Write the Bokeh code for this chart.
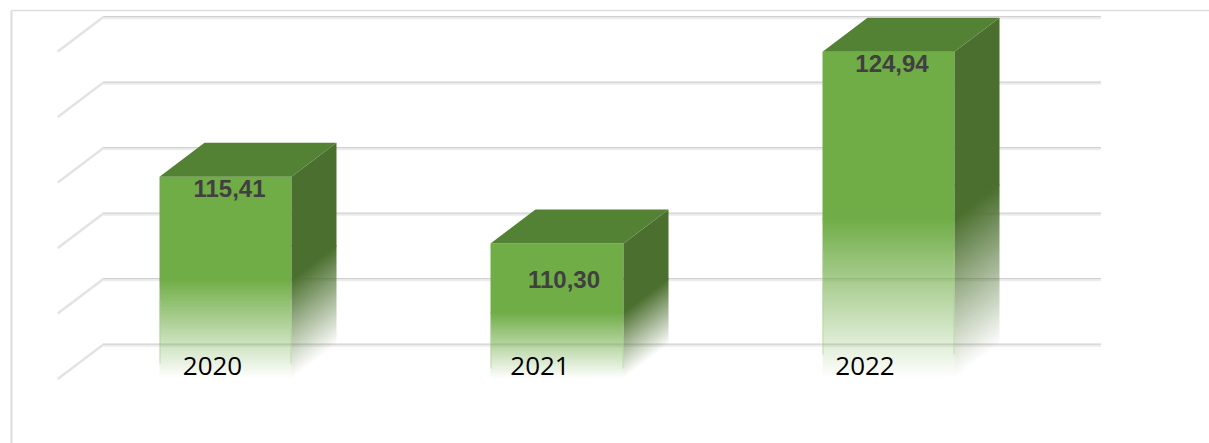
import numpy as np
from bokeh.plotting import figure
from bokeh.models import Range1d
from bokeh.core.properties import value
from bokeh.embed import file_html
from bokeh.resources import INLINE

categories = ["2020", "2021", "2022"]
values = [115.41, 110.30, 124.94]
value_labels = ["115,41", "110,30", "124,94"]
grid_values = [100, 105, 110, 115, 120, 125]
axis_min = 100

W, H = 1209, 443
PX_X = 331.5        # pixels per category
PX_Y = 13.1         # pixels per value unit
CX0 = 225           # x pixel in figure of first category
BASE = 378          # y pixel in figure of axis_min
BAR = 0.4
DX = 45 / PX_X
DY = 34 / PX_Y
FADE = 0.49

p = figure(width=W, height=H, output_backend="svg", toolbar_location=None,
           x_range=Range1d(-CX0 / PX_X, (W - CX0) / PX_X),
           y_range=Range1d(axis_min - (H - BASE) / PX_Y, axis_min + BASE / PX_Y),
           min_border=0, outline_line_color=None, background_fill_color="white")
p.axis.visible = False
p.grid.visible = False

x0, x1 = p.x_range.start, p.x_range.end
y0, y1 = p.y_range.start, p.y_range.end


def snap_x(x):
    return x0 + round((x - x0) * PX_X) / PX_X


def rgba(color, alpha):
    """Pack a hex colour and an alpha array into a uint32 image, row 0 at the bottom."""
    r, g, b = int(color[1:3], 16), int(color[3:5], 16), int(color[5:7], 16)
    a = np.clip(np.round(alpha * 255), 0, 255).astype(np.uint32)
    return (a << 24) | (b << 16) | (g << 8) | r


# chart frame
p.line([x0 + 11 / PX_X] * 2, [y0, y1 - 10 / PX_Y], line_color="#dcdcdc", line_width=2)
p.line([x0 + 11 / PX_X, x1], [y1 - 10 / PX_Y] * 2, line_color="#dfdfdf", line_width=1.5)

# gridlines: floor edge + back wall
gl, gr = -0.504, 2.505
for g in grid_values:
    p.line([gl, gl + DX], [g, g + DY], line_color="#e3e3e3", line_width=2.5, line_cap="round")
    p.line([gl + DX, gr + DX], [g + DY - 0.06] * 2, line_color="#ececec", line_width=3)
    p.line([gl + DX, gr + DX], [g + DY + 0.03] * 2, line_color="#cdcdcd", line_width=1)

FRONT, TOP, SIDE = "#70AD47", "#548235", "#4B6F2E"
ONE_PX = 1 / PX_Y

for i, v in enumerate(values):
    l, r = snap_x(i - BAR / 2), snap_x(i + BAR / 2)
    rb = snap_x(r + DX)
    h = v - axis_min
    fade_h = h * FADE
    fade_top = axis_min + fade_h
    rows = int(round(fade_h * PX_Y))
    cols = int(round((r - l) * PX_X))

    # front face: fading part + solid part overlapping it by a pixel
    t = (np.arange(rows) + 0.5) / rows
    img = rgba(FRONT, np.tile(t[:, None], (1, cols)))
    p.image_rgba(image=[img], x=[l], y=[axis_min], dw=[r - l], dh=[rows / PX_Y])
    p.quad(left=[l], right=[r], bottom=[fade_top - ONE_PX], top=[v], fill_color=FRONT, line_color=None)

    # side face: fading parallelogram + solid part overlapping it
    cols_s = int(round((rb - r) * PX_X))
    rows_s = rows + int(round(DY * PX_Y))
    yy = (np.arange(rows_s) + 0.5)[:, None]
    xx = (np.arange(cols_s) + 0.5)[None, :]
    rise = xx * (DY * PX_Y) / cols_s
    ts = (yy - rise) / rows
    alpha = np.where(ts < 0, 0.0, np.minimum(ts, 1.0))
    p.image_rgba(image=[rgba(SIDE, alpha)], x=[r], y=[axis_min], dw=[rb - r], dh=[rows_s / PX_Y])
    p.patch([r, rb, rb, r], [fade_top + DY - ONE_PX] * 2 + [v + DY, v], fill_color=SIDE, line_color=None)

    # top face
    p.patch([l, r, rb, l + (rb - r)], [v, v, v + DY, v + DY], fill_color=TOP, line_color=None)

    # pale edges in the faded part of the front face
    for ex in (l + 0.5 / PX_X, r - 0.5 / PX_X):
        p.line([ex, ex], [axis_min + fade_h * 0.15, axis_min + fade_h * 0.8],
               line_color="#a9d08e", line_width=1, line_alpha=0.6)

# value labels (hand-placed in the source chart, offsets in pixels)
p.text(x=list(range(3)), y=values, text=value_labels,
       x_offset=[4, 7, 3.5], y_offset=[12, 36, 12],
       text_font=value("Liberation Sans"), text_font_style="bold",
       text_font_size="24px", text_color="#404040",
       text_align="center", text_baseline="middle")

# category labels
p.text(x=list(range(3)), y=[axis_min] * 3, text=categories,
       x_offset=[-13, -17, -23.5], y_offset=[-13] * 3,
       text_font=value("Open Sans"), text_font_size="26px", text_color="#000000",
       text_align="center", text_baseline="middle")

open("out.html", "w").write(file_html(p, INLINE))
